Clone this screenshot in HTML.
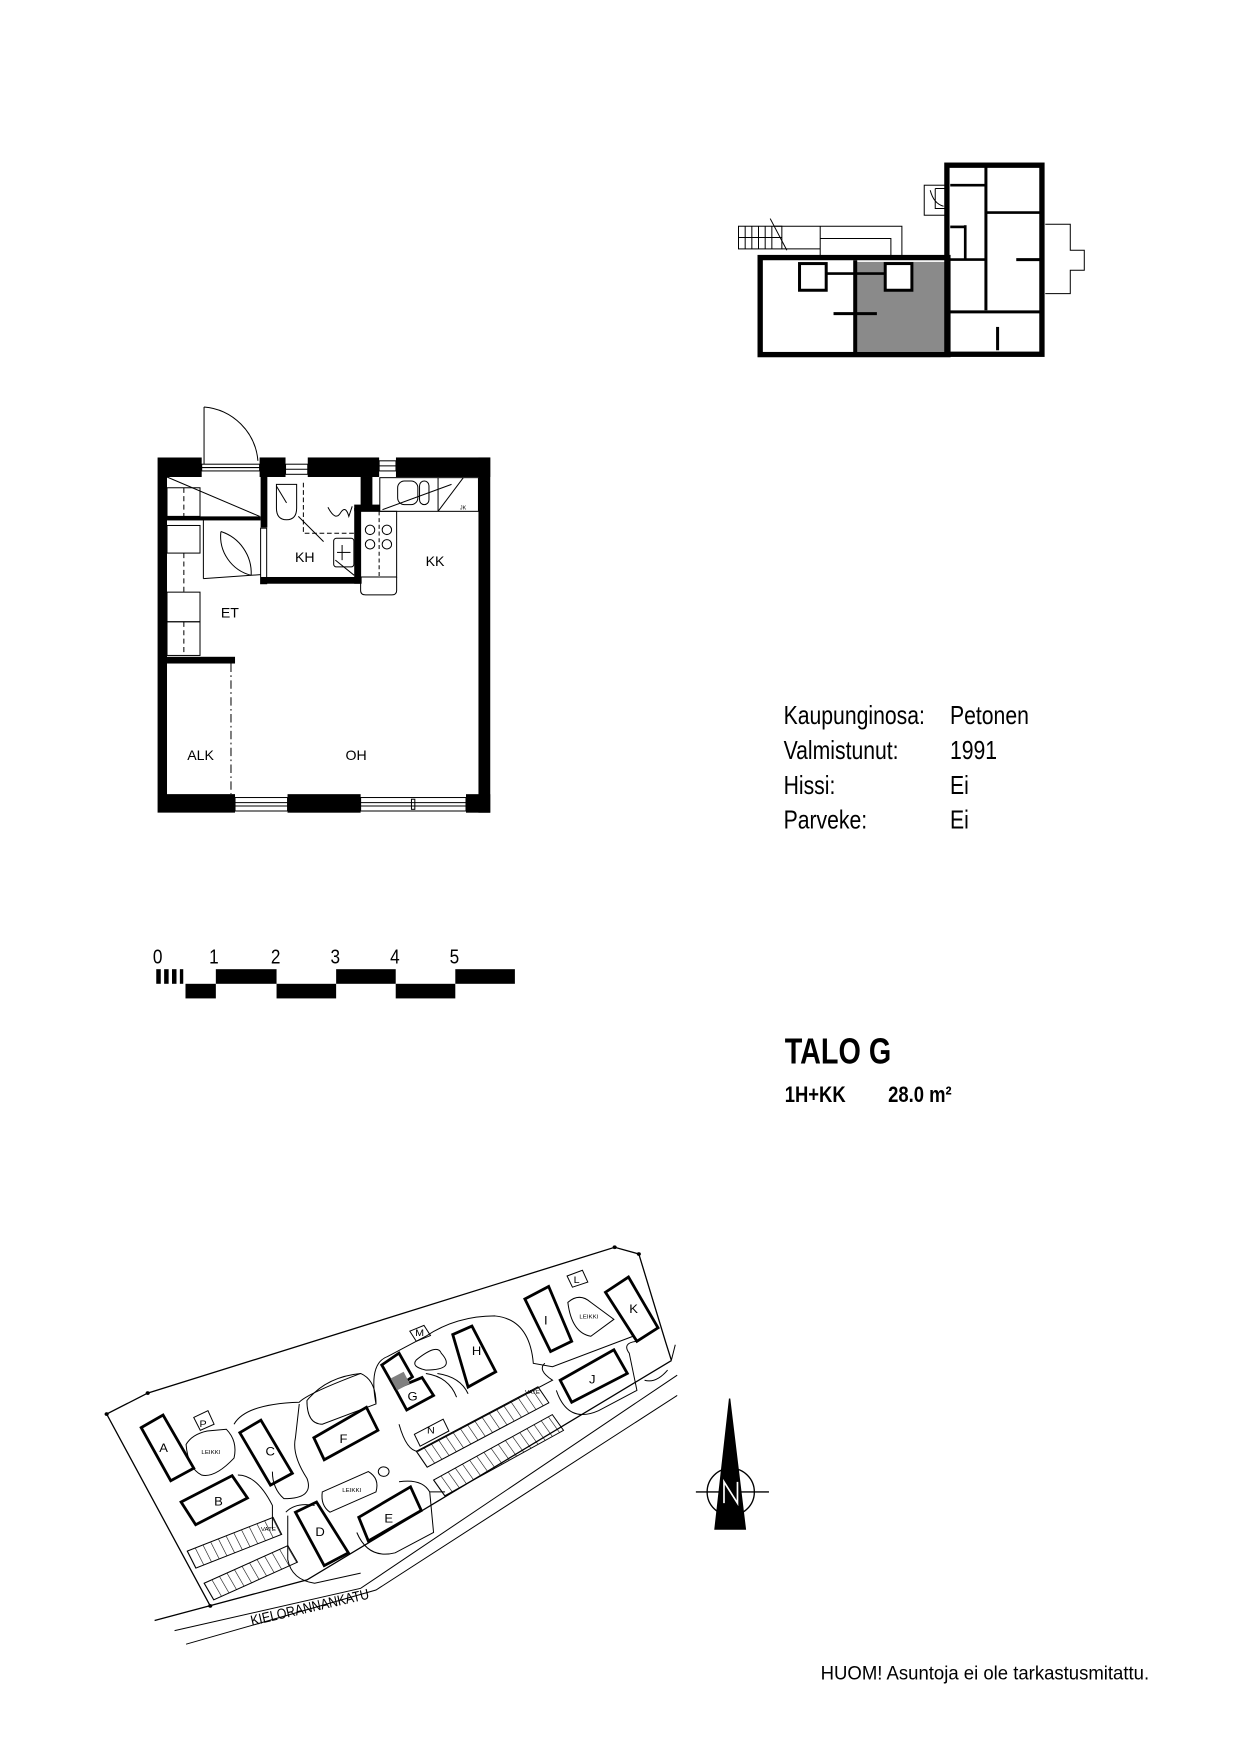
<!DOCTYPE html>
<html><head><meta charset="utf-8"><style>html,body{margin:0;padding:0;background:#fff}svg{display:block}text{font-family:"Liberation Sans",sans-serif}</style></head><body>
<svg width="1240" height="1754" viewBox="0 0 1103 1560" xmlns="http://www.w3.org/2000/svg">
<rect width="1103" height="1560" fill="#fff"/>

<!-- ===== small building plan ===== -->
<g transform="translate(640.6,133.5) scale(0.2966)" stroke="#000" fill="none">
 <rect x="410" y="335" width="270" height="270" fill="#8a8a8a" stroke="none"/>
 <rect x="120" y="322" width="563" height="291" stroke-width="16"/>
 <line x1="405" y1="330" x2="405" y2="610" stroke-width="12"/>
 <rect x="238" y="340" width="80" height="80" stroke-width="9" fill="#fff"/>
 <rect x="495" y="340" width="80" height="80" stroke-width="9" fill="#fff"/>
 <line x1="318" y1="370" x2="495" y2="370" stroke-width="8"/>
 <line x1="340" y1="490" x2="470" y2="490" stroke-width="9"/>
 <rect x="680" y="45" width="285" height="567" stroke-width="16"/>
 <line x1="797" y1="47" x2="797" y2="480" stroke-width="9"/>
 <line x1="690" y1="105" x2="797" y2="105" stroke-width="8"/>
 <line x1="797" y1="187" x2="960" y2="187" stroke-width="8"/>
 <line x1="690" y1="230" x2="735" y2="230" stroke-width="8"/>
 <line x1="735" y1="225" x2="735" y2="325" stroke-width="8"/>
 <line x1="690" y1="328" x2="797" y2="328" stroke-width="8"/>
 <line x1="888" y1="328" x2="960" y2="328" stroke-width="9"/>
 <line x1="690" y1="485" x2="960" y2="485" stroke-width="9"/>
 <line x1="832" y1="530" x2="832" y2="600" stroke-width="9"/>
 <rect x="55" y="228" width="130" height="68" stroke-width="3"/>
 <g stroke-width="3"><line x1="75" y1="228" x2="75" y2="296"/><line x1="95" y1="228" x2="95" y2="296"/><line x1="115" y1="228" x2="115" y2="296"/><line x1="135" y1="228" x2="135" y2="296"/><line x1="155" y1="228" x2="155" y2="296"/><line x1="55" y1="262" x2="185" y2="262"/></g>
 <line x1="150" y1="205" x2="200" y2="300" stroke-width="3"/>
 <path d="M160 228 H545 V315 M300 228 V315 M300 265 H512 V315 M185 296 H300" stroke-width="3"/>
 <rect x="612" y="105" width="68" height="90" stroke-width="3"/>
 <path d="M645 115 H680 M645 115 V175 H680 M630 120 Q640 160 670 168" stroke-width="3"/>
 <path d="M975 222 H1050 V300 H1092 V360 H1050 V430 H975" stroke-width="3"/>
</g>

<!-- ===== apartment plan ===== -->
<g transform="translate(124.6,355.9) scale(0.2995)" stroke="#000">
 <path fill="#000" stroke="none" d="M52 170 H183 V228 H80 V1170 H282 V1225 H52 Z"/>
 <rect x="355" y="170" width="77" height="58" fill="#000" stroke="none"/>
 <rect x="498" y="170" width="212" height="58" fill="#000" stroke="none"/>
 <rect x="760" y="170" width="280" height="58" fill="#000" stroke="none"/>
 <rect x="1005" y="170" width="35" height="1055" fill="#000" stroke="none"/>
 <rect x="438" y="1170" width="217" height="55" fill="#000" stroke="none"/>
 <rect x="968" y="1170" width="72" height="55" fill="#000" stroke="none"/>
 <g fill="none" stroke-width="3">
  <rect x="183" y="190" width="172" height="20"/><line x1="183" y1="200" x2="355" y2="200"/>
  <rect x="432" y="190" width="66" height="30"/><line x1="432" y1="205" x2="498" y2="205"/>
  <rect x="710" y="180" width="50" height="30"/><line x1="710" y1="195" x2="760" y2="195"/>
  <rect x="282" y="1180" width="156" height="40"/><line x1="282" y1="1195" x2="438" y2="1195"/><line x1="282" y1="1205" x2="438" y2="1205"/>
  <rect x="655" y="1180" width="313" height="40"/><line x1="655" y1="1195" x2="968" y2="1195"/><line x1="655" y1="1205" x2="968" y2="1205"/><rect x="806" y="1185" width="10" height="30"/>
  <line x1="190" y1="20" x2="190" y2="190"/>
  <path d="M190 20 A175 175 0 0 1 350 180"/>
 </g>
 <rect x="358" y="228" width="20" height="150" fill="#000" stroke="none"/>
 <rect x="358" y="380" width="18" height="165" fill="#fff" stroke-width="3"/>
 <rect x="358" y="525" width="300" height="20" fill="#000" stroke="none"/>
 <rect x="636" y="320" width="20" height="225" fill="#000" stroke="none"/>
 <rect x="655" y="228" width="35" height="85" fill="#000" stroke="none"/>
 <rect x="636" y="310" width="76" height="20" fill="#000" stroke="none"/>
 <rect x="80" y="345" width="278" height="12" fill="#000" stroke="none"/>
 <rect x="80" y="762" width="202" height="20" fill="#000" stroke="none"/>
 <g fill="none" stroke-width="3">
  <rect x="80" y="260" width="98" height="85"/>
  <rect x="80" y="372" width="98" height="82"/>
  <rect x="80" y="570" width="98" height="88"/>
  <rect x="80" y="658" width="98" height="100"/>
  <line x1="80" y1="228" x2="355" y2="345"/>
  <line x1="130" y1="260" x2="130" y2="345" stroke-dasharray="15 10"/>
  <line x1="130" y1="454" x2="130" y2="570" stroke-dasharray="15 10"/>
  <line x1="130" y1="658" x2="130" y2="758" stroke-dasharray="15 10"/>
  <line x1="270" y1="782" x2="270" y2="1170" stroke-dasharray="25 10 5 10"/>
  <line x1="188" y1="350" x2="188" y2="530"/>
  <line x1="188" y1="530" x2="358" y2="518"/>
  <path d="M240 390 A130 130 0 0 1 330 520"/>
  <path d="M240 390 A120 120 0 0 0 330 520"/>
  <path d="M405 250 H465 V320 Q465 355 435 355 Q405 355 405 320 Z"/>
  <line x1="405" y1="255" x2="435" y2="305"/>
  <line x1="470" y1="345" x2="545" y2="420"/>
  <path d="M485 245 V395 H636" stroke-dasharray="14 8"/>
  <path d="M558 318 Q580 360 595 335 Q610 310 620 345 L630 315"/>
  <rect x="575" y="410" width="60" height="85" rx="8"/>
  <line x1="600" y1="430" x2="600" y2="475"/><line x1="585" y1="452" x2="625" y2="452"/>
  <line x1="580" y1="475" x2="636" y2="520"/>
  <rect x="712" y="230" width="293" height="100"/>
  <line x1="885" y1="230" x2="885" y2="330"/>
  <rect x="765" y="240" width="60" height="70" rx="20"/>
  <rect x="830" y="240" width="28" height="70" rx="14"/>
  <line x1="885" y1="330" x2="960" y2="230"/>
  <path d="M720 325 L925 250"/>
  <rect x="655" y="330" width="107" height="195"/>
  <circle cx="683" cy="385" r="14"/><circle cx="733" cy="385" r="14"/>
  <circle cx="683" cy="428" r="14"/><circle cx="733" cy="428" r="14"/>
  <line x1="710" y1="330" x2="710" y2="525" stroke-dasharray="12 8"/>
  <line x1="655" y1="525" x2="762" y2="525" stroke-dasharray="12 8"/>
  <path d="M655 525 V565 Q655 578 670 578 H748 Q762 578 762 565 V525"/>
 </g>
 <g stroke="none" fill="#000" font-size="42">
  <text x="460" y="480">KH</text>
  <text x="848" y="492">KK</text>
  <text x="240" y="645">ET</text>
  <text x="140" y="1068">ALK</text>
  <text x="610" y="1068">OH</text>
  <text x="950" y="325" font-size="16">JK</text>
 </g>
</g>

<!-- ===== info text ===== -->
<g fill="#000" font-size="23">
 <text transform="translate(697,644) scale(0.82,1)">Kaupunginosa:</text>
 <text transform="translate(845,644) scale(0.82,1)">Petonen</text>
 <text transform="translate(697,675) scale(0.82,1)">Valmistunut:</text>
 <text transform="translate(845,675) scale(0.82,1)">1991</text>
 <text transform="translate(697,706) scale(0.82,1)">Hissi:</text>
 <text transform="translate(845,706) scale(0.82,1)">Ei</text>
 <text transform="translate(697,737) scale(0.82,1)">Parveke:</text>
 <text transform="translate(845,737) scale(0.82,1)">Ei</text>
 <text transform="translate(698,946) scale(0.8,1)" font-size="32" font-weight="bold">TALO G</text>
 <text transform="translate(698,980) scale(0.82,1)" font-size="20" font-weight="bold">1H+KK</text>
 <text transform="translate(790,980) scale(0.82,1)" font-size="20" font-weight="bold">28.0 m²</text>
 <text transform="translate(730,1494) scale(0.97,1)" font-size="17">HUOM!  Asuntoja ei ole tarkastusmitattu.</text>
</g>

<!-- ===== scale bar ===== -->
<g fill="#000" transform="translate(0,-4)">
 <g font-size="18">
  <text transform="translate(136,861) scale(0.85,1)">0</text>
  <text transform="translate(186,861) scale(0.85,1)">1</text>
  <text transform="translate(241,861) scale(0.85,1)">2</text>
  <text transform="translate(294,861) scale(0.85,1)">3</text>
  <text transform="translate(347,861) scale(0.85,1)">4</text>
  <text transform="translate(400,861) scale(0.85,1)">5</text>
 </g>
 <rect x="139" y="866" width="4" height="13"/><rect x="146" y="866" width="4" height="13"/><rect x="153" y="866" width="4" height="13"/><rect x="160" y="866" width="3" height="13"/>
 <rect x="192" y="866" width="54" height="13"/><rect x="299" y="866" width="53" height="13"/><rect x="405" y="866" width="53" height="13"/>
 <rect x="165" y="879" width="27" height="13"/><rect x="246" y="879" width="53" height="13"/><rect x="352" y="879" width="53" height="13"/>
</g>

<!-- ===== compass ===== -->
<g stroke="#000" fill="none" stroke-width="1.2">
 <circle cx="650" cy="1327" r="21"/>
 <line x1="619" y1="1327" x2="684" y2="1327"/>
 <path d="M649 1244 L636 1360 L663 1360 Z" fill="#000"/>
 <path d="M644 1337 V1318 L656 1337 V1318" stroke="#fff" stroke-width="1.5"/>
</g>

<!-- ===== site map ===== -->
<defs>
 <pattern id="pk" width="22" height="60" patternUnits="userSpaceOnUse"><line x1="0" y1="0" x2="0" y2="60" stroke="#000" stroke-width="3"/></pattern>
</defs>
<g transform="translate(81.9,1098.2) scale(0.3413,0.301)" fill="none" stroke="#000">
 <polyline points="308,1097 38,530 145,468 1362,37 1425,57 1495,318 1510,372" stroke-width="1.3" vector-effect="non-scaling-stroke"/>
 <g fill="#000"><circle cx="38" cy="530" r="5"/><circle cx="145" cy="468" r="5"/><circle cx="1362" cy="37" r="5"/><circle cx="1425" cy="57" r="5"/><circle cx="308" cy="1097" r="5"/></g>
 <polyline points="163,1140 560,1020 1510,372" stroke-width="1.3" vector-effect="non-scaling-stroke"/>
 <polyline points="215,1170 700,1045 1525,415" stroke-width="1" vector-effect="non-scaling-stroke"/>
 <polyline points="245,1210 740,1050 1525,475" stroke-width="1" vector-effect="non-scaling-stroke"/>
 <g stroke-width="2.8" fill="#fff">
  <polygon points="128,570 185,533 265,690 205,727" vector-effect="non-scaling-stroke"/>
  <polygon points="232,790 365,712 405,778 270,857" vector-effect="non-scaling-stroke"/>
  <polygon points="385,585 440,548 522,705 465,740" vector-effect="non-scaling-stroke"/>
  <polygon points="530,820 585,790 668,940 605,978" vector-effect="non-scaling-stroke"/>
  <polygon points="695,835 830,745 858,815 720,905" vector-effect="non-scaling-stroke"/>
  <polygon points="578,600 715,510 745,578 605,665" vector-effect="non-scaling-stroke"/>
  <polygon points="755,385 800,350 835,420 790,455" vector-effect="non-scaling-stroke"/>
  <polygon points="790,455 860,422 890,475 820,518" vector-effect="non-scaling-stroke"/>
  <polygon points="940,295 990,270 1052,405 980,450" vector-effect="non-scaling-stroke"/>
  <polygon points="1128,190 1190,153 1250,315 1195,345" vector-effect="non-scaling-stroke"/>
  <polygon points="1220,430 1360,340 1395,410 1250,495" vector-effect="non-scaling-stroke"/>
  <polygon points="1338,170 1398,125 1475,275 1420,315" vector-effect="non-scaling-stroke"/>
 </g>
 <polygon points="778,425 812,405 828,440 795,460" fill="#808080" stroke="none"/>
 <g stroke-width="1">
  <polygon points="828,285 865,268 882,298 845,315" vector-effect="non-scaling-stroke"/>
  <polygon points="1238,122 1278,105 1292,140 1252,155" vector-effect="non-scaling-stroke"/>
  <polygon points="265,540 302,520 318,560 282,578" vector-effect="non-scaling-stroke"/>
  <polygon points="840,590 915,545 930,580 855,625" vector-effect="non-scaling-stroke"/>
  <circle cx="760" cy="700" r="14" vector-effect="non-scaling-stroke"/>
  <path d="M245 620 Q260 590 300 580 L350 575 Q380 610 370 660 Q320 720 285 710 Q250 690 245 620 Z" vector-effect="non-scaling-stroke"/>
  <path d="M600 760 L720 700 Q750 720 740 760 L620 820 Q595 800 600 760 Z" vector-effect="non-scaling-stroke"/>
  <path d="M1240 200 Q1270 170 1300 200 L1360 250 L1300 300 Q1250 290 1240 200 Z" vector-effect="non-scaling-stroke"/>
  <path d="M560 490 Q610 420 700 410 Q740 430 740 500 L600 560 Q560 560 560 490 Z" vector-effect="non-scaling-stroke"/>
  <path d="M370 560 Q400 500 540 495 Q560 470 700 410 M540 500 L530 600 Q520 650 560 720 Q580 780 500 780 Q470 750 470 700" vector-effect="non-scaling-stroke"/>
  <path d="M740 500 Q720 380 770 360 L870 300 Q950 240 1050 240 Q1140 250 1150 380 L1200 390 L1410 300" vector-effect="non-scaling-stroke"/>
  <path d="M845 370 Q900 320 910 350 Q950 400 870 400 Q830 390 845 370 Z" vector-effect="non-scaling-stroke"/>
  <path d="M870 410 Q930 420 950 480 M900 410 Q960 420 980 470" vector-effect="non-scaling-stroke"/>
  <path d="M380 710 Q430 710 470 800 L470 870 M505 820 Q530 790 580 800 M510 830 L510 960 Q520 1020 580 1030 L700 1000" vector-effect="non-scaling-stroke"/>
  <path d="M690 880 Q720 960 790 940 L890 880 L880 760 Q860 720 800 730 M880 760 L920 760" vector-effect="non-scaling-stroke"/>
  <path d="M1210 460 Q1240 560 1320 520 L1420 460 L1400 350 Q1380 320 1420 315" vector-effect="non-scaling-stroke"/>
  <path d="M800 560 Q820 640 850 640 L1200 430 Q1160 400 1180 380" vector-effect="non-scaling-stroke"/>
  <path d="M1440 430 Q1470 440 1500 400 M1520 325 L1510 370" vector-effect="non-scaling-stroke"/>
 </g>
 <g>
  <g transform="translate(248,935) rotate(-24)"><rect x="0" y="0" width="245" height="55" fill="url(#pk)" stroke="#000" stroke-width="1" vector-effect="non-scaling-stroke"/></g>
  <g transform="translate(292,1030) rotate(-27)"><rect x="0" y="0" width="245" height="55" fill="url(#pk)" stroke="#000" stroke-width="1" vector-effect="non-scaling-stroke"/></g>
  <g transform="translate(845,640) rotate(-31)"><rect x="0" y="0" width="370" height="55" fill="url(#pk)" stroke="#000" stroke-width="1" vector-effect="non-scaling-stroke"/></g>
  <g transform="translate(890,725) rotate(-32)"><rect x="0" y="0" width="365" height="55" fill="url(#pk)" stroke="#000" stroke-width="1" vector-effect="non-scaling-stroke"/></g>
 </g>
 <g fill="#000" stroke="none" font-size="34">
  <text x="175" y="642">A</text><text x="318" y="800">B</text><text x="452" y="652">C</text>
  <text x="582" y="890">D</text><text x="762" y="850">E</text><text x="645" y="615">F</text>
  <text x="822" y="490">G</text><text x="990" y="355">H</text><text x="1178" y="265">I</text>
  <text x="1295" y="440">J</text><text x="1400" y="232">K</text><text x="1255" y="142" font-size="28">L</text>
  <text x="842" y="300" font-size="28">M</text><text x="873" y="588" font-size="28">N</text><text x="280" y="568" font-size="28">P</text>
  <g font-size="16"><text x="285" y="648">LEIKKI</text><text x="652" y="760">LEIKKI</text><text x="1270" y="247">LEIKKI</text><text x="440" y="875">VATE</text><text x="1128" y="470">VATE</text></g>
 </g>
</g>
<text transform="translate(224,1446) rotate(-13) scale(0.85,1)" font-size="13" fill="#000">KIELORANNANKATU</text>
</svg>
</body></html>
